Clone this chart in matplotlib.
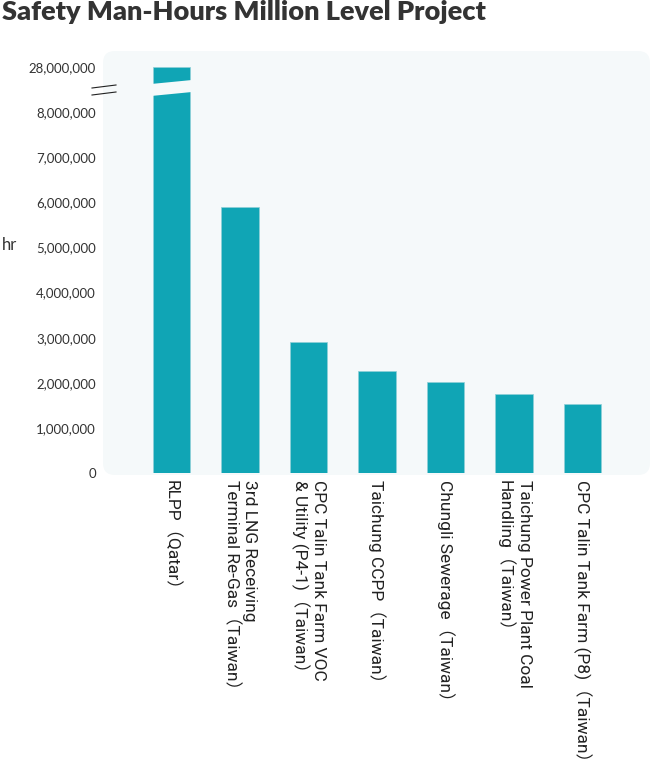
import numpy as np
import matplotlib
matplotlib.use("Agg")
import matplotlib.pyplot as plt
from matplotlib.patches import FancyBboxPatch, Polygon
from matplotlib.lines import Line2D
from matplotlib.ticker import FuncFormatter
from matplotlib.transforms import blended_transform_factory

# data
projects = [
    "RLPP（Qatar）",
    "3rd LNG Receiving\nTerminal Re-Gas（Taiwan）",
    "CPC Talin Tank Farm VOC\n& Utility (P4-1)（Taiwan）",
    "Taichung CCPP（Taiwan）",
    "Chungli Sewerage（Taiwan）",
    "Taichung Power Plant Coal\nHandling（Taiwan）",
    "CPC Talin Tank Farm (P8)（Taiwan）",
]
hours = [28000000, 5900000, 2900000, 2270000, 2020000, 1760000, 1540000]
low_ticks = [0, 1000000, 2000000, 3000000, 4000000, 5000000, 6000000, 7000000, 8000000]
high_ticks = [28000000]

bar_color = "#10a5b5"
panel_color = "#f5f9fa"
text_color = "#333333"

W, H = 651, 771
fig = plt.figure(figsize=(W / 100, H / 100), dpi=100)

# light rounded panel behind the plot
panel = FancyBboxPatch((1.03, (H - 475) / 100), 5.47, 4.24,
                       boxstyle="round,pad=0,rounding_size=0.12",
                       transform=fig.dpi_scale_trans, facecolor=panel_color,
                       edgecolor="none", zorder=-5)
fig.patches.append(panel)

px_per_m = 45.1  # pixels per million hours
y0, ybrk, ytop, y28 = 473, 80, 51, 67

ax = fig.add_axes([103 / W, 1 - y0 / H, 548 / W, (y0 - ybrk) / H])
ax_hi = fig.add_axes([103 / W, 1 - ybrk / H, 548 / W, (ybrk - ytop) / H])

x = np.arange(len(projects))
for a in (ax, ax_hi):
    a.bar(x, hours, width=0.55, color=bar_color, edgecolor="#8fd0d8", linewidth=0.5, zorder=2)
    a.set_xlim(-1, 7)
    a.patch.set_visible(False)
    for s in a.spines.values():
        s.set_visible(False)
    a.tick_params(length=0, pad=5)

fmt = FuncFormatter(lambda v, p: f"{int(v):,}")
ax.set_ylim(0, (y0 - ybrk) / px_per_m * 1e6)
ax.set_yticks(low_ticks)
ax.yaxis.set_major_formatter(fmt)
ax_hi.set_ylim(28e6 - (ybrk - y28) / px_per_m * 1e6, 28e6 + (y28 - ytop) / px_per_m * 1e6)
ax_hi.set_yticks(high_ticks)
ax_hi.yaxis.set_major_formatter(fmt)
ax_hi.set_xticks([])

for a in (ax, ax_hi):
    for lab in a.get_yticklabels():
        lab.set_family("Lato")
        lab.set_fontsize(9.5)
        lab.set_color(text_color)

# x labels, rotated downwards
ax.set_xticks([])
for i, name in enumerate(projects):
    ax.annotate(name, xy=(i, 0), xycoords=("data", "axes fraction"),
                xytext=(0, -5), textcoords="offset points",
                rotation=270, rotation_mode="anchor", ha="left", va="center",
                multialignment="left", linespacing=1.15,
                fontsize=12.5, color="#222222", family=["Roboto", "Noto Sans CJK TC"])

# slanted gap through the broken bar
tr = blended_transform_factory(ax.transData, fig.transFigure)
bl, br = x[0] - 0.3, x[0] + 0.3
gap = Polygon([(bl, 1 - 84 / H), (br, 1 - 80 / H), (br, 1 - 92 / H), (bl, 1 - 96 / H)],
              closed=True, transform=tr, facecolor=panel_color, edgecolor="none",
              clip_on=False, zorder=5)
fig.add_artist(gap)

# axis break marks
for ya, yb in [(88, 85), (95, 92)]:
    fig.add_artist(Line2D([0.92, 1.16], [(H - ya) / 100, (H - yb) / 100],
                          transform=fig.dpi_scale_trans, color="#222222", lw=0.8))

fig.text(2 / W, 1 - 12 / H, "Safety Man-Hours Million Level Project", family="Lato",
         fontweight="heavy", fontsize=19.5, color=text_color, ha="left", va="center")
fig.text(2 / W, 1 - 245 / H, "hr", family="Lato", fontsize=12, color=text_color,
         ha="left", va="center")

fig.savefig("out.png", dpi=100)
